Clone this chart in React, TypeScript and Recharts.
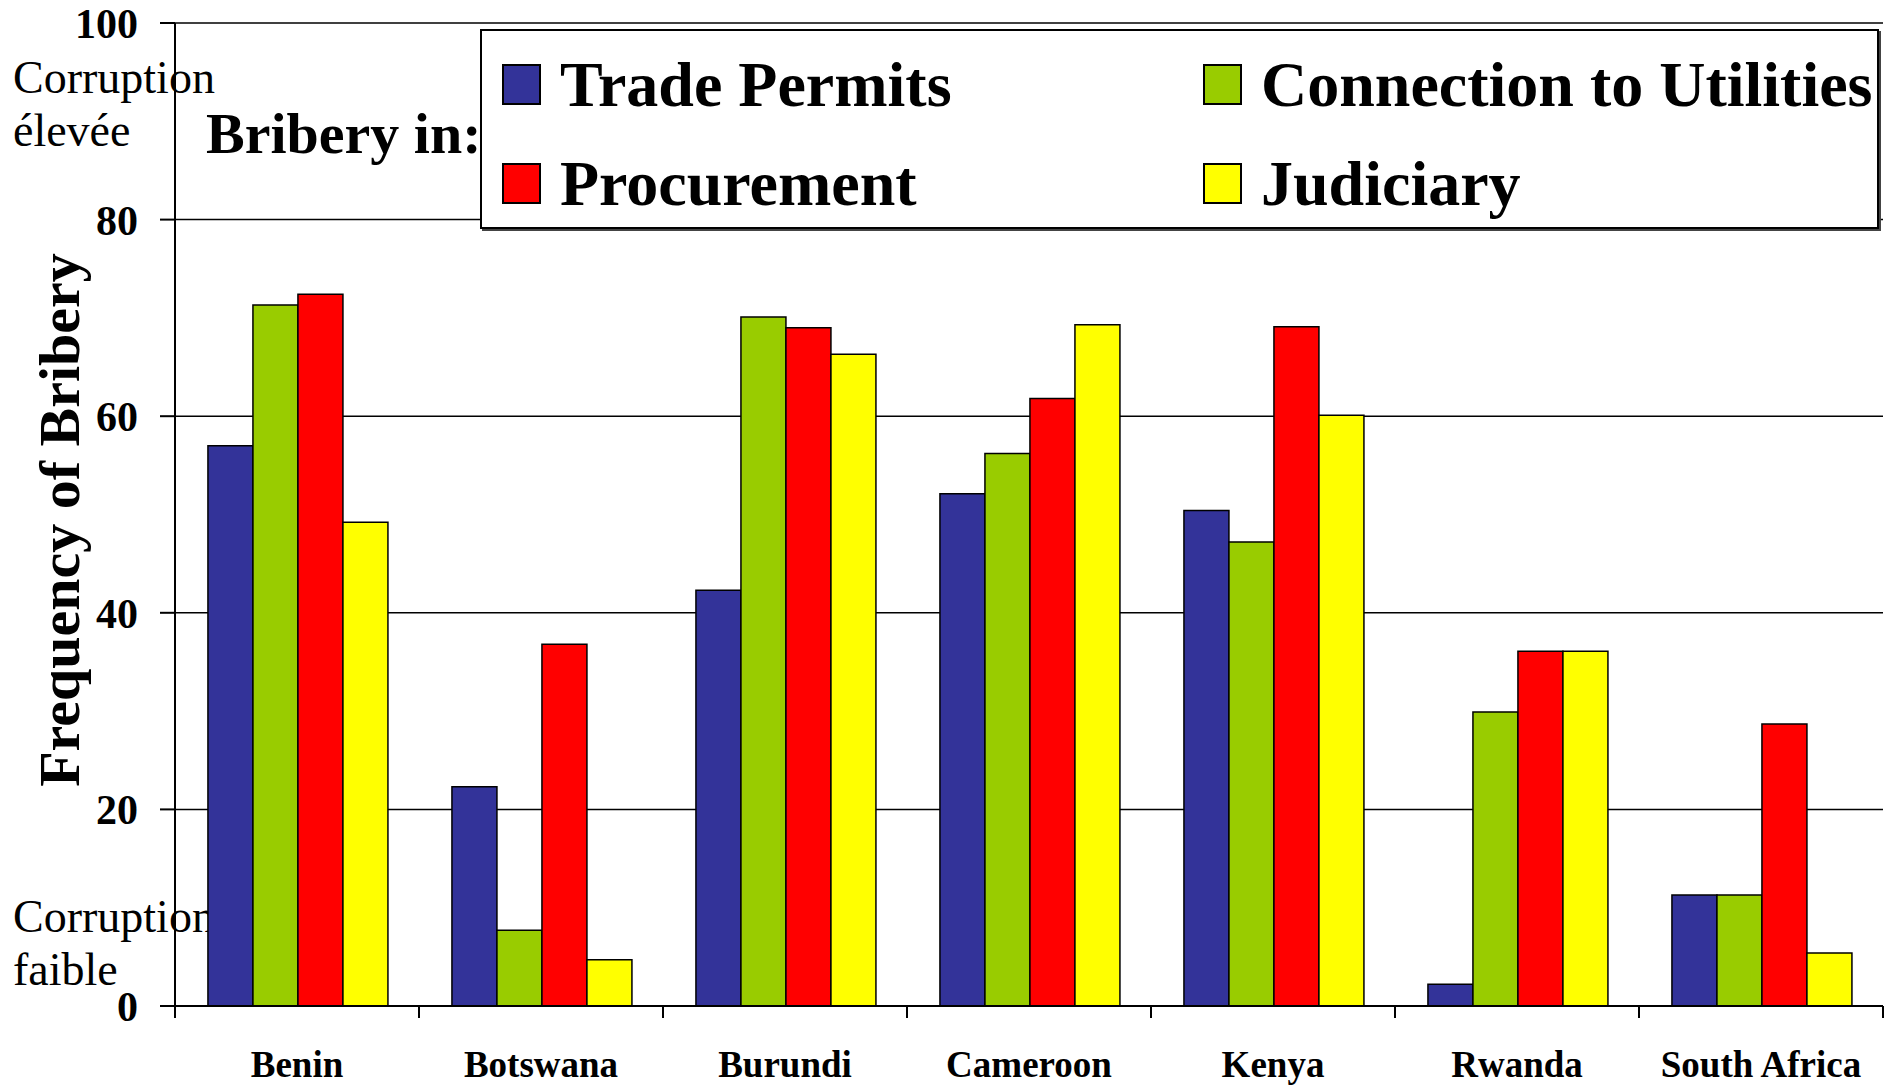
import { BarChart, Bar, XAxis, YAxis, CartesianGrid, Legend } from "recharts";

const countries = ["Benin", "Botswana", "Burundi", "Cameroon", "Kenya", "Rwanda", "South Africa"];
const tradePermits = [57, 22.3, 42.3, 52.1, 50.4, 2.2, 11.3];
const connectionUtilities = [71.3, 7.7, 70.1, 56.2, 47.2, 29.9, 11.3];
const procurement = [72.4, 36.8, 69.0, 61.8, 69.1, 36.1, 28.7];
const judiciary = [49.2, 4.7, 66.3, 69.3, 60.1, 36.1, 5.4];
const yTicks = [0, 20, 40, 60, 80, 100];

const series = [
  { key: "trade", name: "Trade Permits", color: "#333399" },
  { key: "utilities", name: "Connection to Utilities", color: "#99CC00" },
  { key: "procurement", name: "Procurement", color: "#FF0000" },
  { key: "judiciary", name: "Judiciary", color: "#FFFF00" },
];

const data = countries.map((country, i) => ({
  country,
  trade: tradePermits[i],
  utilities: connectionUtilities[i],
  procurement: procurement[i],
  judiciary: judiciary[i],
}));

const W = 1892;
const H = 1085;
const MARGIN = { top: 23, right: 9, left: 0, bottom: 0 };
const Y_AXIS_W = 175;
const X_AXIS_H = 79;
const BAND = (W - MARGIN.left - MARGIN.right - Y_AXIS_W) / countries.length;
const SERIF = '"Liberation Serif", "Times New Roman", serif';

// ticks sit between categories, Excel style
const CategoryTick = (props: any) => {
  const { x, y, payload, index } = props;
  const half = BAND / 2;
  return (
    <g>
      <line x1={x - half} y1={y} x2={x - half} y2={y + 12} stroke="#000" strokeWidth={2} />
      {index === countries.length - 1 && (
        <line x1={x + half} y1={y} x2={x + half} y2={y + 12} stroke="#000" strokeWidth={2} />
      )}
      <text
        x={x}
        y={y + 71}
        textAnchor="middle"
        fontFamily={SERIF}
        fontWeight={700}
        fontSize={37}
        fill="#000"
      >
        {payload.value}
      </text>
    </g>
  );
};

const renderLegend = (props: any) => {
  const names = series.map((s) => s.name);
  const items = [...(props.payload || [])].sort(
    (a: any, b: any) => names.indexOf(a.value) - names.indexOf(b.value)
  );
  return (
    <div
      style={{
        boxSizing: "border-box",
        width: 1399,
        height: 200,
        border: "2px solid #000",
        boxShadow: "2px 2px 0 #444",
        background: "#fff",
        display: "grid",
        gridTemplateColumns: "701px 1fr",
        gridAutoRows: "99px",
        paddingLeft: 20,
        paddingTop: 4,
      }}
    >
      {items.map((entry: any) => (
        <div key={entry.value} style={{ display: "flex", alignItems: "center" }}>
          <span
            style={{
              display: "inline-block",
              boxSizing: "border-box",
              width: 39,
              height: 41,
              background: entry.color,
              border: "2px solid #000",
              marginRight: 19,
            }}
          />
          <span
            style={{
              fontFamily: SERIF,
              fontWeight: 700,
              fontSize: 64,
              lineHeight: 1,
              color: "#000",
              whiteSpace: "nowrap",
            }}
          >
            {entry.value}
          </span>
        </div>
      ))}
    </div>
  );
};

const sideText: React.CSSProperties = {
  position: "absolute",
  left: 13,
  fontFamily: SERIF,
  fontSize: 46,
  lineHeight: "53px",
  color: "#000",
  whiteSpace: "nowrap",
};

export default function App() {
  return (
    <div style={{ position: "absolute", left: 0, top: 0, width: W, height: H, background: "#fff" }}>
      <div style={{ ...sideText, top: 51 }}>
        Corruption
        <br />
        élevée
      </div>
      <div style={{ ...sideText, top: 890 }}>
        Corruption
        <br />
        faible
      </div>
      <div
        style={{
          position: "absolute",
          left: 206,
          top: 105,
          fontFamily: SERIF,
          fontWeight: 700,
          fontSize: 58,
          lineHeight: 1,
          whiteSpace: "nowrap",
        }}
      >
        Bribery in:
      </div>
      <div
        style={{
          position: "absolute",
          left: 60,
          top: 520,
          transform: "translate(-50%, -50%) rotate(-90deg)",
          fontFamily: SERIF,
          fontWeight: 700,
          fontSize: 58,
          lineHeight: 1,
          whiteSpace: "nowrap",
        }}
      >
        Frequency of Bribery
      </div>
      <div style={{ position: "absolute", left: 0, top: 0 }}>
        <BarChart
          width={W}
          height={H}
          data={data}
          margin={MARGIN}
          barCategoryGap="13.5%"
          barGap={0}
        >
          <CartesianGrid vertical={false} stroke="#000" strokeWidth={1.5} />
          <XAxis
            dataKey="country"
            height={X_AXIS_H}
            interval={0}
            tickLine={false}
            tickSize={0}
            tickMargin={0}
            axisLine={{ stroke: "#000", strokeWidth: 2 }}
            tick={<CategoryTick />}
          />
          <YAxis
            width={Y_AXIS_W}
            domain={[0, 100]}
            ticks={yTicks}
            interval={0}
            tickSize={15}
            tickMargin={22}
            axisLine={{ stroke: "#000", strokeWidth: 2 }}
            tickLine={{ stroke: "#000", strokeWidth: 2 }}
            tick={{ fontFamily: SERIF, fontWeight: 700, fontSize: 42, fill: "#000" }}
          />
          <Legend
            layout="horizontal"
            verticalAlign="middle"
            align="center"
            content={renderLegend}
            wrapperStyle={{ left: 480, top: 29, width: 1399, height: 200 }}
          />
          {series.map((s) => (
            <Bar
              key={s.key}
              dataKey={s.key}
              name={s.name}
              fill={s.color}
              stroke="#000"
              strokeWidth={1.5}
              isAnimationActive={false}
            />
          ))}
        </BarChart>
      </div>
    </div>
  );
}
